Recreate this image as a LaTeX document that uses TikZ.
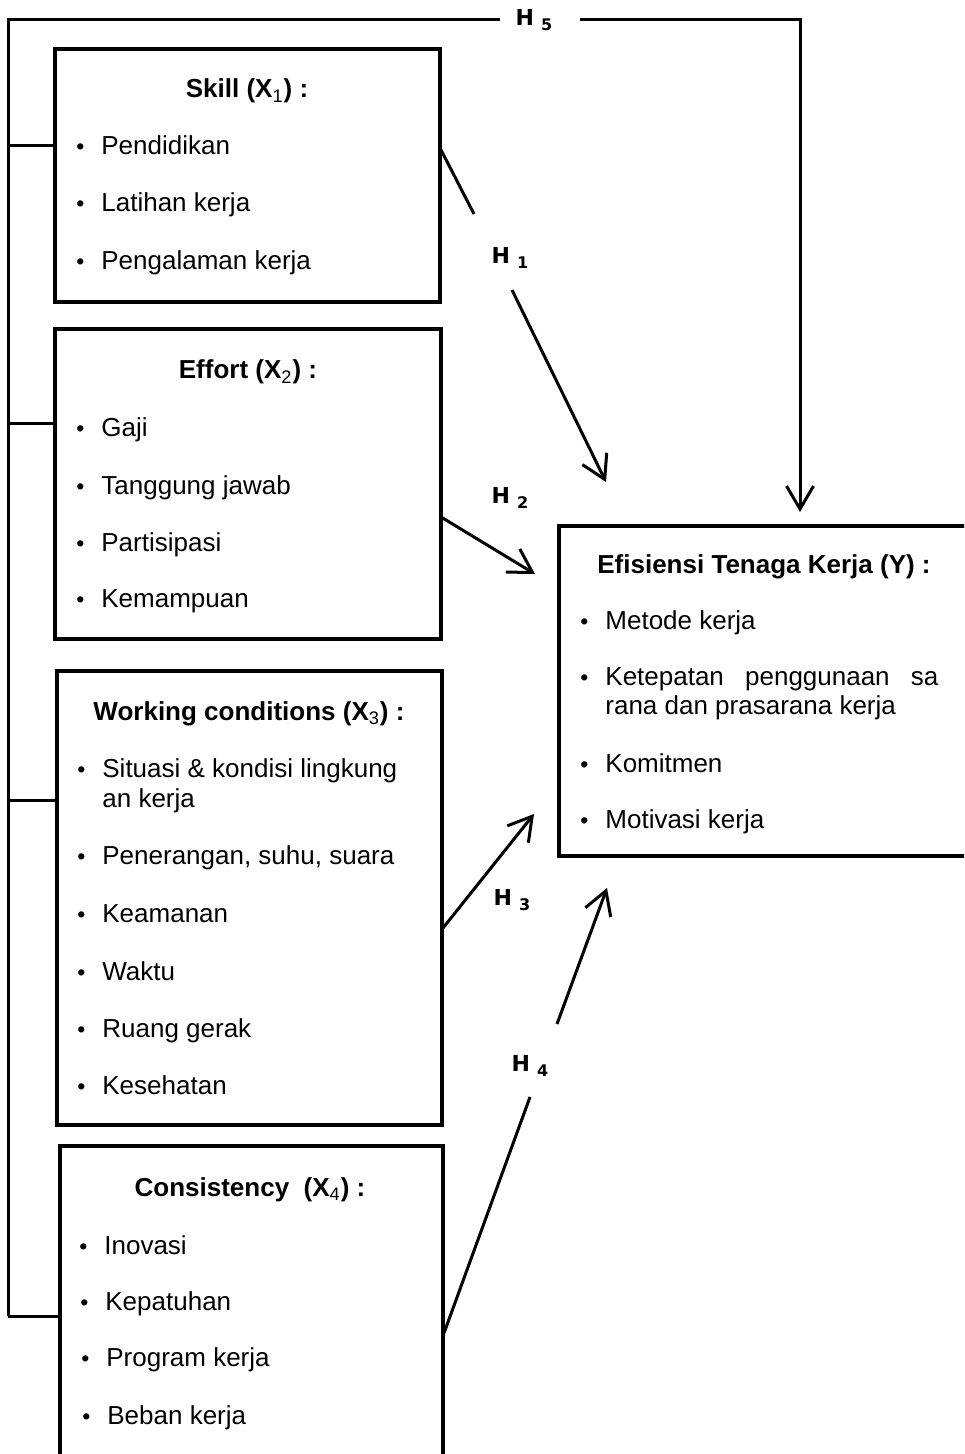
\documentclass[tikz,border=0pt]{standalone}
\usepackage{fontspec}
\setmainfont{Liberation Sans}
\newfontfamily\hfont{DejaVu Sans}
\usetikzlibrary{arrows.meta}
\begin{document}
\begin{tikzpicture}[x=0.5pt,y=-0.5pt,
  box/.style={draw, line width=1.7pt, anchor=north west, inner sep=0pt, outer sep=0pt},
  ttl/.style={font=\bfseries\fontsize{13}{15}\selectfont, anchor=base, inner sep=0pt},
  item/.style={font=\fontsize{13}{15}\selectfont, anchor=base west, inner sep=0pt},
  hl/.style={font=\hfont\bfseries\fontsize{11}{13}\selectfont, inner sep=0pt},
  conn/.style={line width=1.5pt},
  arr/.style={conn, -{Straight Barb[length=11.5pt,width=13.5pt]}}
]
\fill[white] (0,0) rectangle (964,1454);
\clip (0,0) rectangle (964,1454);

\newcommand{\bul}{\makebox[12.5pt][l]{\raisebox{0pt}{\fontsize{11.5}{11.5}\selectfont\textbullet}}}
\newcommand{\hsub}[1]{H\hspace{3.5pt}\raisebox{-2.5pt}{\fontsize{8}{8}\selectfont #1}}

% boxes
\node[box, minimum width=192.5pt, minimum height=126.5pt] (x1) at (55,49) {};
\node[box, minimum width=193pt, minimum height=155pt] (x2) at (55,329) {};
\node[box, minimum width=192.5pt, minimum height=227pt] (x3) at (57,671) {};
\node[box, minimum width=191.5pt, minimum height=170pt] (x4) at (60,1146) {};
\node[box, minimum width=215pt, minimum height=165pt] (y) at (559,526) {};

% box 1
\node[ttl] (t1) at (247,98) {Skill (X\textsubscript{\mdseries 1}) :};
\node[item] (i11) at (76,155) {\bul Pendidikan};
\node[item] (i12) at (76,212) {\bul Latihan kerja};
\node[item] (i13) at (76,270) {\bul Pengalaman kerja};

% box 2
\node[ttl] (t2) at (248,379) {Effort (X\textsubscript{\mdseries 2}) :};
\node[item] (i21) at (76,437) {\bul Gaji};
\node[item] (i22) at (76,494) {\bul Tanggung jawab};
\node[item] (i23) at (76,551) {\bul Partisipasi};
\node[item] (i24) at (76,607) {\bul Kemampuan};

% box 3
\node[ttl] (t3) at (249,720) {Working conditions (X\textsubscript{\mdseries 3}) :};
\node[item] (i31) at (77,777) {\bul Situasi \& kondisi lingkung};
\node[item] (i31b) at (102,807) {an kerja};
\node[item] (i32) at (77,864) {\bul Penerangan, suhu, suara};
\node[item] (i33) at (77,922) {\bul Keamanan};
\node[item] (i34) at (77,980) {\bul Waktu};
\node[item] (i35) at (77,1037) {\bul Ruang gerak};
\node[item] (i36) at (77,1094) {\bul Kesehatan};

% box 4
\node[ttl] (t4) at (250,1196) {Consistency\ \ (X\textsubscript{\mdseries 4}) :};
\node[item] (i41) at (79,1254) {\bul Inovasi};
\node[item] (i42) at (80,1310) {\bul Kepatuhan};
\node[item] (i43) at (81,1366) {\bul Program kerja};
\node[item] (i44) at (82,1424) {\bul Beban kerja};

% box Y
\node[ttl] (ty) at (764,573) {Efisiensi Tenaga Kerja (Y) :};
\node[item] (iy1) at (580,629) {\bul Metode kerja};
\node[item] (iy2) at (580,685) {\bul\makebox[166.5pt][s]{Ketepatan\hfill penggunaan\hfill sa}};
\node[item] (iy2b) at (605,714) {rana dan prasarana kerja};
\node[item] (iy3) at (580,772) {\bul Komitmen};
\node[item] (iy4) at (580,828) {\bul Motivasi kerja};

% H labels
\node[hl] (h1) at (510,258) {\hsub{1}};
\node[hl] (h2) at (510,498) {\hsub{2}};
\node[hl] (h3) at (512,900) {\hsub{3}};
\node[hl] (h4) at (530,1066) {\hsub{4}};
\node[hl] (h5) at (534,20) {\hsub{5}};

% connector coordinates
\coordinate (a1s) at (440,148);
\coordinate (a1m) at (474,214);
\coordinate (a1n) at (512,290);
\coordinate (a1e) at (606,482);
\coordinate (a2s) at (441,517);
\coordinate (a2e) at (535,574);
\coordinate (a3s) at (443,928);
\coordinate (a3e) at (534,814);
\coordinate (a4s) at (444,1333);
\coordinate (a4m) at (530,1097);
\coordinate (a4n) at (557,1024);
\coordinate (a4e) at (607,888);
\coordinate (l0) at (8,20);
\coordinate (l1) at (8,146);
\coordinate (l2) at (8,424);
\coordinate (l3) at (8,800);
\coordinate (l4) at (8,1316);
\coordinate (h5a) at (500,20);
\coordinate (h5b) at (580,20);
\coordinate (h5c) at (800,20);
\coordinate (a5e) at (800,512);

% connectors
\draw[conn] (a1s) -- (a1m);
\draw[arr] (a1n) -- (a1e);
\draw[arr] (a2s) -- (a2e);
\draw[arr] (a3s) -- (a3e);
\draw[conn] (a4s) -- (a4m);
\draw[arr] (a4n) -- (a4e);

\draw[conn] (l4) -- (l0) -- (h5a);
\draw[arr] (h5b) -- (h5c) -- (a5e);
\draw[conn] (l1) -- (l1 -| x1.west);
\draw[conn] (l2) -- (l2 -| x2.west);
\draw[conn] (l3) -- (l3 -| x3.west);
\draw[conn] (l4) -- (l4 -| x4.west);
\end{tikzpicture}
\end{document}
